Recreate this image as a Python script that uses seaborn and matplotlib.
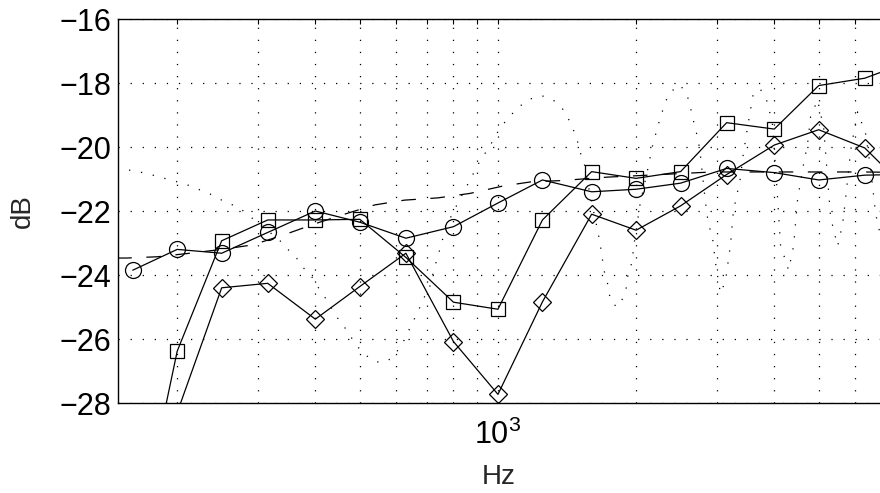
import numpy as np
import matplotlib
matplotlib.use('Agg')
import matplotlib.pyplot as plt
import seaborn as sns
from matplotlib.ticker import FixedLocator, LogLocator, NullFormatter

# 1/3-octave band centres (Hz) and the three measured series (dB)
band_hz = [160, 200, 250, 315, 400, 500, 630, 800, 1000, 1250,
           1600, 2000, 2500, 3150, 4000, 5000, 6300, 8000]
circle_db = [-23.85, -23.2, -23.32, -22.67, -22.0, -22.35, -22.85, -22.49, -21.75, -21.03,
             -21.4, -21.32, -21.13, -20.67, -20.8, -21.03, -20.88, -20.85]
square_db = [-33.0, -26.38, -22.93, -22.28, -22.28, -22.26, -23.45, -24.85, -25.07, -22.28,
             -20.77, -20.98, -20.77, -19.24, -19.44, -18.08, -17.85, -17.3]
diamond_db = [-33.0, -28.3, -24.4, -24.26, -25.38, -24.36, -23.32, -26.08, -27.73, -24.84,
              -22.1, -22.6, -21.84, -20.86, -19.94, -19.46, -20.03, -21.5]

# smooth curve (dashed)
dash_hz = [148, 155, 181, 210, 250, 292, 341, 399, 470, 539, 626, 740, 869, 1025,
           1192, 1380, 1525, 1739, 2126, 2933, 3734, 5047, 6266, 8000]
dash_db = [-23.47, -23.47, -23.43, -23.33, -23.2, -23.06, -22.75, -22.4, -22.07, -21.81,
           -21.66, -21.59, -21.45, -21.22, -21.08, -21.05, -21.0, -20.94, -20.88, -20.78,
           -20.78, -20.78, -20.78, -20.8]

# comb-like response (dotted)
dot_hz = [148, 157, 168, 177, 199, 211, 224, 236, 250, 264, 277, 334, 348, 364, 377,
          393, 405, 419, 447, 463, 480, 495, 518, 544, 575, 599, 620, 636, 652, 669,
          686, 710, 728, 747, 770, 801, 835, 877, 900, 927, 961, 985, 1020, 1062, 1117,
          1175, 1248, 1319, 1379, 1422, 1458, 1488, 1510, 1541, 1588, 1654, 1670, 1687,
          1696, 1730, 1739, 1774, 1828, 1875, 1913, 1922, 1962, 1972, 2042, 2115, 2169,
          2235, 2315, 2374, 2496, 2586, 2625, 2665, 2733, 2761, 2831, 2874, 2933, 2977,
          3053, 3131, 3211, 3259, 3376, 3410, 3497, 3604, 3734, 3867, 3965, 4066, 4128,
          4298, 4407, 4496, 4611, 4728, 4800, 4972, 5125, 5308, 5498, 5638, 5723, 5870,
          6079, 6329, 6490, 6655, 6825, 7000]
dot_db = [-20.65, -20.72, -20.8, -20.88, -21.08, -21.19, -21.34, -21.47, -21.66, -21.81,
          -21.97, -22.91, -23.19, -23.47, -23.78, -24.06, -24.37, -24.68, -25.34, -25.63,
          -25.97, -26.25, -26.53, -26.72, -26.69, -26.44, -26.13, -25.8, -25.47, -25.16,
          -24.78, -24.37, -23.75, -23.2, -22.5, -22.0, -21.5, -20.93, -20.6, -20.3,
          -19.97, -19.66, -19.34, -19.03, -18.72, -18.5, -18.4, -18.53, -18.78, -19.1,
          -19.44, -19.78, -20.16, -20.5, -21.5, -22.7, -23.06, -23.4, -23.8, -24.15,
          -24.5, -24.9, -25.0, -24.7, -24.3, -23.9, -23.6, -23.2, -21.75, -20.77,
          -20.0, -19.3, -18.6, -18.28, -18.06, -18.4, -18.75, -19.16, -19.8, -20.25,
          -21.7, -22.4, -22.8, -23.6, -24.57, -24.2, -23.06, -22.0, -20.97, -20.4,
          -19.4, -18.3, -18.2, -18.6, -19.3, -21.56, -23.06, -23.85, -23.1, -21.66,
          -20.7, -19.9, -19.06, -18.53, -19.4, -22.2, -23.1, -22.4, -21.6, -20.1,
          -18.9, -19.6, -20.7, -22.1, -22.8, -23.5]

y_ticks = [-28, -26, -24, -22, -20, -18, -16]

sns.set_style("white")
plt.rcParams['font.family'] = ['Liberation Sans', 'DejaVu Sans']
plt.rcParams['mathtext.fontset'] = 'custom'
plt.rcParams['mathtext.rm'] = 'Liberation Sans'
plt.rcParams['mathtext.it'] = 'Liberation Sans:italic'
plt.rcParams['lines.scale_dashes'] = False

fig = plt.figure(figsize=(8.8, 4.93), dpi=100)
ax = fig.add_axes([118 / 880, 90 / 493, 762 / 880, 384 / 493])

dotted = (0, (0.9, 7.8))
sns.lineplot(x=dot_hz, y=dot_db, ax=ax, color='k', linewidth=0.9, linestyle=dotted)
sns.lineplot(x=dash_hz, y=dash_db, ax=ax, color='k', linewidth=0.9, linestyle=(0, (10.5, 10.5)))

mk = dict(color='k', linewidth=0.9, markerfacecolor='none',
          markeredgecolor='k', markeredgewidth=0.9)
sns.lineplot(x=band_hz, y=circle_db, ax=ax, marker='o', markersize=11.5, **mk)
sns.lineplot(x=band_hz, y=square_db, ax=ax, marker='s', markersize=9.6, **mk)
sns.lineplot(x=band_hz, y=diamond_db, ax=ax, marker='D', markersize=9.0, **mk)

ax.set_xscale('log')
ax.set_xlim(148.6, 6800)
ax.set_ylim(-28, -16)
ax.set_yticks(y_ticks)
ax.xaxis.set_major_locator(FixedLocator([1000]))
ax.xaxis.set_minor_locator(LogLocator(subs=np.arange(2, 10)))
ax.xaxis.set_minor_formatter(NullFormatter())

grid_kw = dict(color='k', linewidth=0.9, linestyle=dotted)
ax.grid(True, axis='x', which='both', **grid_kw)
ax.grid(True, axis='y', which='major', **grid_kw)
ax.set_axisbelow(True)

for side in ['left', 'bottom', 'top']:
    ax.spines[side].set_linewidth(1.0)
    ax.spines[side].set_color('k')
ax.spines['right'].set_visible(False)

ax.tick_params(which='both', direction='in', top=True, right=False,
               length=3.5, width=0.8, colors='k', labelsize=22)
ax.tick_params(axis='y', pad=5)
ax.tick_params(axis='x', pad=12)

ax.set_xlabel('Hz', fontsize=20)
ax.set_ylabel('dB', fontsize=20)
ax.xaxis.set_label_coords(0.5, -0.16)
ax.yaxis.set_label_coords(-0.108, 0.5)

fig.savefig('out.png', dpi=100)
plt.close()
